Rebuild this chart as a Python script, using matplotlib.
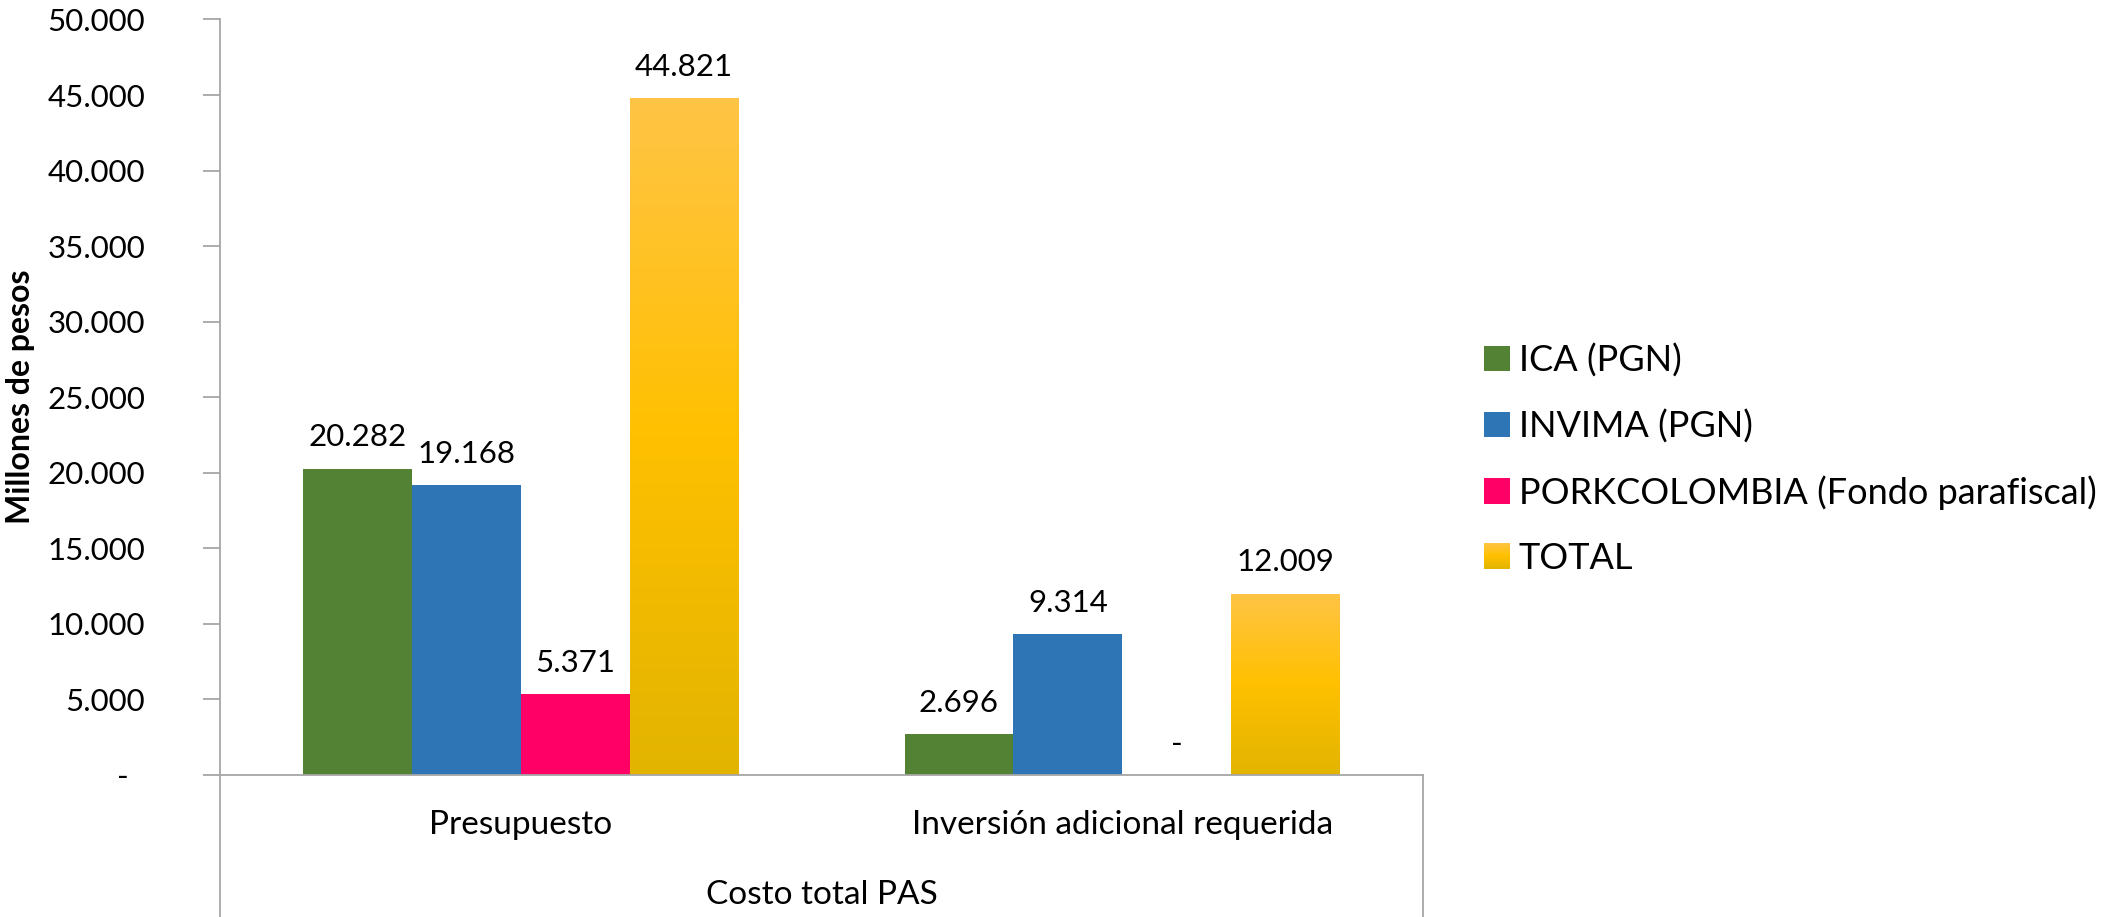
import numpy as np
import matplotlib
matplotlib.use("Agg")
import matplotlib.pyplot as plt
from matplotlib.patches import Rectangle
from matplotlib.lines import Line2D
from matplotlib.legend_handler import HandlerBase
from matplotlib.colors import LinearSegmentedColormap

plt.rcParams['font.family'] = ['Lato', 'DejaVu Sans']

categories = ["Presupuesto", "Inversión adicional requerida"]
group_label = "Costo total PAS"
series_names = ["ICA (PGN)", "INVIMA (PGN)", "PORKCOLOMBIA (Fondo parafiscal)", "TOTAL"]
ica = [20282, 2696]
invima = [19168, 9314]
pork = [5371, 0]
total = [44821, 12009]
series_values = [ica, invima, pork, total]
y_ticks = [0, 5000, 10000, 15000, 20000, 25000, 30000, 35000, 40000, 45000, 50000]

colors = ["#548235", "#2E75B6", "#FF0066", "#FFC000"]
grad_cols = ["#FFC446", "#FFC000", "#E2B400"]  # top, middle, bottom
gold_cmap = LinearSegmentedColormap.from_list("gold", grad_cols[::-1])

W, H = 2108, 917
fig = plt.figure(figsize=(W / 100, H / 100), dpi=100)
ax_l, ax_r, ax_b, ax_t = 220, 1423, 775, 19.5
ax = fig.add_axes([ax_l / W, (H - ax_b) / H, (ax_r - ax_l) / W, (ax_b - ax_t) / H])

def fmt(v):
    return "-" if v == 0 else f"{v:,.0f}".replace(",", ".")

x = np.arange(len(categories))
bw = 0.181
offsets = (np.arange(4) - 1.5) * bw
gray = "#A6A6A6"

for i, (name, vals) in enumerate(zip(series_names, series_values)):
    bars = ax.bar(x + offsets[i], vals, width=bw, color=colors[i], label=name, zorder=2)
    if name == "TOTAL":
        for b in bars:
            grad = np.linspace(0, 1, 256).reshape(-1, 1)
            im = ax.imshow(grad, cmap=gold_cmap, aspect='auto', origin='lower',
                           extent=[b.get_x(), b.get_x() + b.get_width(), 0, b.get_height()],
                           zorder=2.5)
            im.set_clip_path(b)
    for xi, v in zip(x + offsets[i], vals):
        ax.annotate(fmt(v), (xi, v), xytext=(0, 16), textcoords="offset points",
                    ha="center", va="baseline", fontsize=22.5, color="black", zorder=5)

ax.set_xlim(-0.5, 1.5)
ax.set_ylim(0, 50000)
ax.set_yticks(y_ticks)
ax.set_yticklabels([fmt(t) + ("  " if t == 0 else "") for t in y_ticks], fontsize=22.5)
ax.tick_params(axis='y', length=12, width=1.3, color=gray, pad=42)
ax.set_xticks([])
for s in ["top", "right"]:
    ax.spines[s].set_visible(False)
for s in ["left", "bottom"]:
    ax.spines[s].set_color(gray)
    ax.spines[s].set_linewidth(1.3)

ax.set_ylabel("Millones de pesos", fontsize=23, fontweight="bold")
ax.yaxis.set_label_coords(-(ax_l - 35) / (ax_r - ax_l), 0.5)

# multi-level category axis
y_cat = -(825 - ax_b) / (ax_b - ax_t)
for xc, cat in zip(x, categories):
    ax.text(xc, y_cat, cat, transform=ax.get_xaxis_transform(), ha="center", va="center",
            fontsize=24)
ax.text(0.5, -(895 - ax_b) / (ax_b - ax_t), group_label, transform=ax.transAxes,
        ha="center", va="center", fontsize=24)
for xp in (ax_l, ax_r):
    fig.add_artist(Line2D([xp / W, xp / W], [0, (H - ax_b) / H], color=gray, lw=1.3,
                          transform=fig.transFigure))


class GradHandler(HandlerBase):
    def create_artists(self, legend, orig_handle, xdescent, ydescent, width, height,
                       fontsize, trans):
        arts = []
        n = 20
        for k in range(n):
            c = gold_cmap(1 - (k + 0.5) / n)
            arts.append(Rectangle((-xdescent, -ydescent + height * (n - 1 - k) / n), width,
                                  height / n + 0.2, facecolor=c, edgecolor='none',
                                  transform=trans))
        return arts


handles, labels = ax.get_legend_handles_labels()
leg = fig.legend(handles, labels, loc="upper left", bbox_to_anchor=(1470 / W, 1 - 329 / H),
                 frameon=False, fontsize=26, handlelength=0.7, handleheight=0.7,
                 handletextpad=0.25, labelspacing=0.88, borderaxespad=0,
                 handler_map={handles[3]: GradHandler()})

fig.savefig("out.png", dpi=100)
